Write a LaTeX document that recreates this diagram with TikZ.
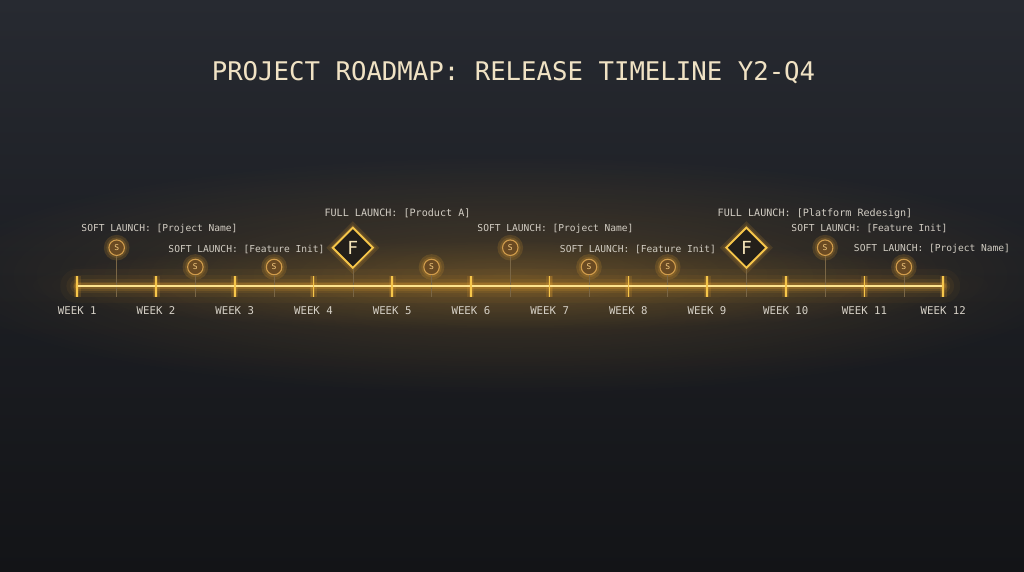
\documentclass[tikz,border=0pt]{standalone}
\usepackage{fontspec}
\newfontfamily\mono{DejaVu Sans Mono}
\usetikzlibrary{shapes.geometric,fadings}
\definecolor{bgtop}{HTML}{272A31}
\definecolor{bgmid}{HTML}{1C1E23}
\definecolor{bgbot}{HTML}{131417}
\definecolor{gold}{HTML}{F6C64A}
\definecolor{goldcore}{HTML}{FCE38E}
\definecolor{glowc}{HTML}{EBA530}
\definecolor{labelc}{HTML}{D2CDC3}
\definecolor{weekc}{HTML}{D6D1C7}
\definecolor{titlec}{HTML}{F0E2C4}
\definecolor{sfill}{HTML}{6A4A22}
\definecolor{sdraw}{HTML}{D09C4C}
\definecolor{stext}{HTML}{F4CA80}
\definecolor{ftext}{HTML}{F6E4B8}
\definecolor{stemc}{HTML}{7A6645}
\definecolor{dfill}{HTML}{231F1A}
\tikzfading[name=softglow, inner color=transparent!80, outer color=transparent!100]
\begin{document}
\begin{tikzpicture}[x=1pt,y=-1pt,
  lbl/.style={font=\mono\fontsize{9.6}{11}\selectfont, text=labelc, inner sep=0},
  flbl/.style={font=\mono\fontsize{10.1}{12}\selectfont, text=labelc, inner sep=0},
  wk/.style={font=\mono\fontsize{10.7}{12}\selectfont, text=weekc, inner sep=0},
  smark/.style={circle, minimum size=15.5pt, inner sep=0, fill=sfill, draw=sdraw, line width=1.1pt, text=stext, font=\mono\fontsize{8}{9}\selectfont},
  sglow/.style={circle, minimum size=15.5pt, inner sep=0, draw=glowc, line width=#1, draw opacity=0.16},
  fmark/.style={diamond, minimum size=41pt, inner sep=0, draw=gold, line width=1.9pt, fill=dfill, text=ftext, font=\mono\fontsize{18}{19}\selectfont},
  fglow/.style={diamond, minimum size=41pt, inner sep=0, draw=glowc, line width=#1, draw opacity=0.14},
  stemline/.style={draw=stemc, line width=0.6pt},
  tickline/.style={draw=gold, line width=1.7pt},
]
% background
\useasboundingbox (0,0) rectangle (1024,572);
\shade[top color=bgtop, bottom color=bgbot, middle color=bgmid] (0,0) rectangle (1024,572);
% ambient warm glow
\fill[glowc, path fading=softglow] (510,275) ellipse (580 and 120);
\fill[glowc, path fading=softglow] (510,285) ellipse (490 and 45);

% title
\node[font=\mono\fontsize{25.7}{28}\selectfont, text=titlec, inner sep=0] (title) at (513.5,73) {PROJECT ROADMAP: RELEASE TIMELINE Y2-Q4};

% week ticks coordinates
\foreach \i in {1,...,12}{
  \pgfmathsetmacro\xx{77.3+78.72*(\i-1)}
  \coordinate (t\i) at (\xx,286);
  \coordinate (tt\i) at (\xx,276);
  \coordinate (tb\i) at (\xx,296.7);
}
% timeline glow
\foreach \w/\o in {34/0.04, 22/0.06, 14/0.09, 9/0.14, 6/0.22}{
  \draw[glowc, line width=\w pt, opacity=\o, line cap=round] (t1) -- (t12);
}
\foreach \i in {1,...,12}{
  \draw[glowc, line width=7pt, opacity=0.15] (tt\i) -- (tb\i);
  \draw[glowc, line width=4pt, opacity=0.2] (tt\i) -- (tb\i);
}
% stems and markers
\foreach \n/\w/\y in {1/1.5/247.7, 2/2.5/267, 3/3.5/267, 5/5.5/267, 6/6.5/247.7, 7/7.5/267, 8/8.5/267, 10/10.5/247.7, 11/11.5/267}{
  \pgfmathsetmacro\xx{77.3+78.72*(\w-1)}
  \coordinate (sb\n) at (\xx,296.7);
  \node[sglow=10pt] at (\xx,\y) {};
  \node[sglow=5pt] at (\xx,\y) {};
  \node[smark] (m\n) at (\xx,\y) {S};
  \draw[stemline] (m\n.south) -- (sb\n);
}
\foreach \n/\w in {4/4.5, 9/9.5}{
  \pgfmathsetmacro\xx{77.3+78.72*(\w-1)}
  \coordinate (sb\n) at (\xx,296.7);
  \node[fglow=12pt] at (\xx,247.7) {};
  \node[fglow=6pt] at (\xx,247.7) {};
  \node[fmark] (m\n) at (\xx,247.7) {F};
  \draw[stemline] (m\n.south) -- (sb\n);
}
% timeline core
\draw[gold, line width=2.8pt] (t1) -- (t12);
\draw[goldcore, line width=1.1pt] (t1) -- (t12);
\foreach \i in {1,...,12}{
  \draw[tickline] (tt\i) -- (tb\i);
}
% week labels
\foreach \i in {1,...,12}{
  \pgfmathsetmacro\xx{77.3+78.72*(\i-1)}
  \node[wk] (w\i) at (\xx,310.5) {WEEK \i};
}
% milestone labels
\node[lbl]  (l1) at (159.5,228.5) {SOFT LAUNCH: [Project Name]};
\node[lbl]  (l2) at (246.5,249)   {SOFT LAUNCH: [Feature Init]};
\node[flbl] (l3) at (397.5,213.5) {FULL LAUNCH: [Product A]};
\node[lbl]  (l4) at (555.5,228.5) {SOFT LAUNCH: [Project Name]};
\node[lbl]  (l5) at (638,249)     {SOFT LAUNCH: [Feature Init]};
\node[flbl] (l6) at (815,213.5)   {FULL LAUNCH: [Platform Redesign]};
\node[lbl]  (l7) at (869.5,228.5) {SOFT LAUNCH: [Feature Init]};
\node[lbl]  (l8) at (932,249)     {SOFT LAUNCH: [Project Name]};
\end{tikzpicture}
\end{document}
